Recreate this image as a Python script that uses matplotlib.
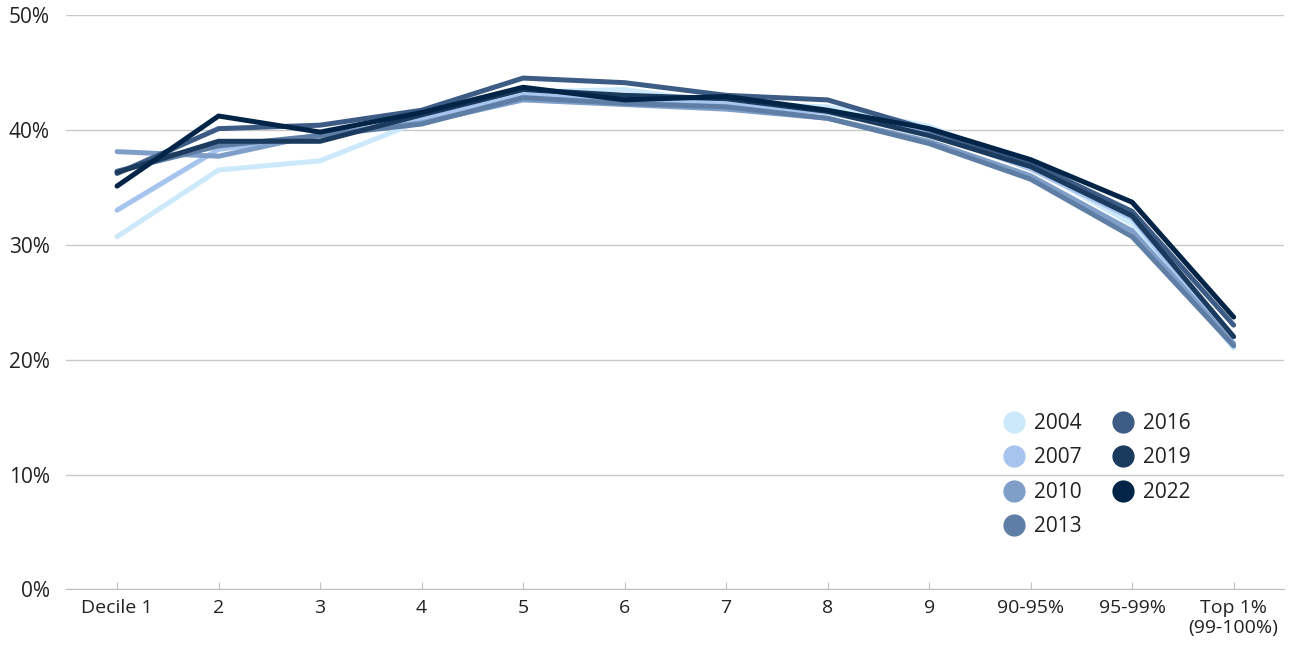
import matplotlib.pyplot as plt
from matplotlib.lines import Line2D
from matplotlib.ticker import PercentFormatter

plt.rcParams['font.family'] = ['Open Sans', 'DejaVu Sans']

categorias = ['Decile 1', '2', '3', '4', '5', '6', '7', '8', '9',
              '90-95%', '95-99%', 'Top 1%\n(99-100%)']
anios = ['2004', '2007', '2010', '2013', '2016', '2019', '2022']
colores = ['#cce9fb', '#a6c4ee', '#7f9fc9', '#5e7ea5', '#3d5c85', '#1a3a5e', '#022447']

v2004 = [30.7, 36.5, 37.3, 40.8, 43.3, 43.5, 42.3, 42.0, 40.3, 36.8, 31.8, 21.0]
v2007 = [33.0, 38.3, 39.4, 40.9, 43.0, 42.8, 42.2, 41.5, 39.8, 36.6, 32.3, 21.3]
v2010 = [38.1, 37.7, 39.6, 40.6, 42.6, 42.2, 41.8, 41.0, 39.0, 36.0, 31.2, 21.4]
v2013 = [36.4, 38.6, 39.5, 40.5, 42.8, 42.3, 42.0, 41.0, 38.8, 35.7, 30.7, 21.2]
v2016 = [36.2, 40.1, 40.4, 41.7, 44.5, 44.1, 43.0, 42.6, 40.0, 37.1, 32.9, 23.0]
v2019 = [36.3, 39.0, 39.0, 41.3, 43.5, 43.0, 42.7, 41.6, 39.5, 36.8, 32.5, 22.0]
v2022 = [35.1, 41.2, 39.8, 41.5, 43.7, 42.6, 42.9, 41.7, 40.1, 37.4, 33.7, 23.7]
series = [v2004, v2007, v2010, v2013, v2016, v2019, v2022]

fig, ax = plt.subplots(figsize=(13, 6.47), dpi=100)
fig.subplots_adjust(left=0.051, right=0.988, top=0.977, bottom=0.089)

x = list(range(len(categorias)))
for anio, col, vals in zip(anios, colores, series):
    ax.plot(x, [v / 100 for v in vals], color=col, lw=3.6, label=anio,
            solid_capstyle='round', solid_joinstyle='round')

ax.set_xlim(-0.5, len(categorias) - 0.5)
ax.set_ylim(0, 0.5)
ax.set_yticks([0, 0.1, 0.2, 0.3, 0.4, 0.5])
ax.yaxis.set_major_formatter(PercentFormatter(1.0, decimals=0))
ax.set_xticks(x)
ax.set_xticklabels(categorias)
ax.grid(axis='y', color='#c8c8c8', lw=1)
ax.set_axisbelow(True)
for s in ['top', 'right', 'left']:
    ax.spines[s].set_visible(False)
ax.spines['bottom'].set_color('#c0c0c0')
ax.tick_params(axis='y', length=0, labelsize=15, labelcolor='#222222', pad=12)
ax.tick_params(axis='x', direction='in', length=5, color='#c0c0c0',
               labelsize=14, labelcolor='#222222', pad=7)
for lbl in ax.get_xticklabels():
    lbl.set_linespacing(1.1)

handles = [Line2D([], [], ls='none', marker='o', markersize=15,
                  markerfacecolor=c, markeredgecolor=c) for c in colores]
ax.legend(handles, anios, ncol=2, frameon=False, fontsize=15,
          loc='upper left', bbox_to_anchor=(0.752, 0.34),
          handlelength=1.2, handletextpad=0.36, columnspacing=1.4,
          labelspacing=0.65, labelcolor='#222222')

plt.savefig('out.png')
plt.close()
